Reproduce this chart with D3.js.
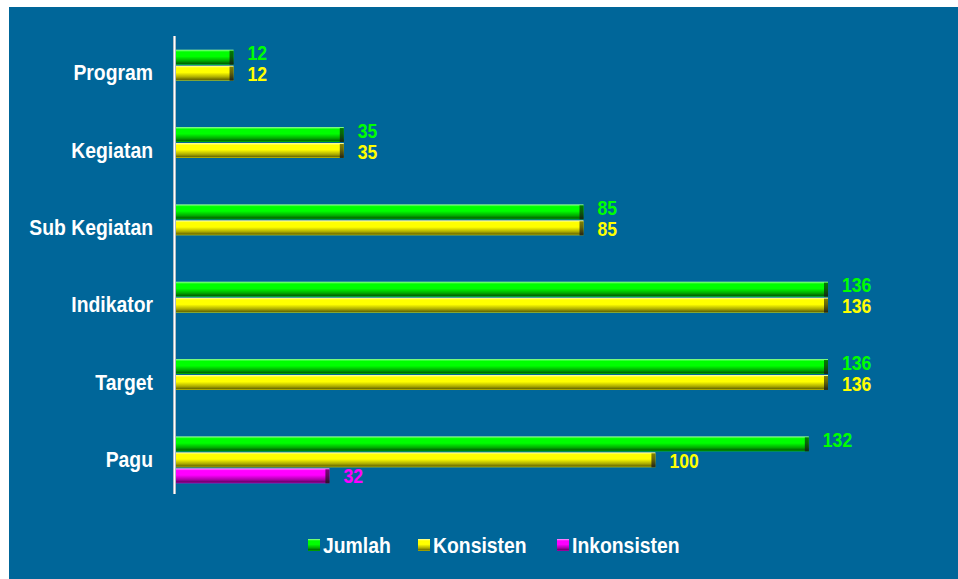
<!DOCTYPE html>
<html>
  <head>
    <meta charset="UTF-8" />
    <script src="https://d3js.org/d3.v7.min.js"></script>
    <style>
      body { margin: 0; background: #fff; }
      text { font-family: "Liberation Sans", Arial, sans-serif; font-weight: bold; }
    </style>
  </head>
  <body>
    <div id="my_dataviz"></div>

    <script>
      var width = 958, height = 579;

      const categories = ["Program", "Kegiatan", "Sub Kegiatan", "Indikator", "Target", "Pagu"];
      const seriesNames = ["Jumlah", "Konsisten", "Inkonsisten"];
      const jumlah = [12, 35, 85, 136, 136, 132];
      const konsisten = [12, 35, 85, 136, 136, 100];
      const inkonsisten = [0, 0, 0, 0, 0, 32];
      const seriesValues = [jumlah, konsisten, inkonsisten];

      const colors = ["#00ff00", "#ffff00", "#ff00ff"];
      const darks = ["#006600", "#6b6b00", "#660066"];
      const lights = ["#9cff9c", "#ffffb0", "#ffa8ff"];
      // value labels sit a little off the bar centre, like the original
      const labelShift = [-4, 1, 0];

      // narrow look: the condensed font is not installed, so squeeze it
      const squeeze = 0.88;

      var svg = d3
        .select("#my_dataviz")
        .append("svg")
        .attr("width", width)
        .attr("height", height);

      // background panel
      svg.append("rect")
        .attr("x", 9).attr("y", 7)
        .attr("width", width - 9).attr("height", height - 7)
        .attr("fill", "#006699");

      var defs = svg.append("defs");
      seriesNames.forEach(function (s, i) {
        var g = defs.append("linearGradient")
          .attr("id", "grad" + i)
          .attr("x1", 0).attr("y1", 0).attr("x2", 0).attr("y2", 1);
        g.append("stop").attr("offset", "0%").attr("stop-color", lights[i]);
        g.append("stop").attr("offset", "15%").attr("stop-color", colors[i]);
        g.append("stop").attr("offset", "45%").attr("stop-color", colors[i]);
        g.append("stop").attr("offset", "75%").attr("stop-color", d3.interpolateRgb(colors[i], darks[i])(0.55));
        g.append("stop").attr("offset", "92%").attr("stop-color", darks[i]);
        g.append("stop").attr("offset", "100%").attr("stop-color", d3.interpolateRgb(colors[i], darks[i])(0.3));
        var e = defs.append("linearGradient")
          .attr("id", "end" + i)
          .attr("x1", 0).attr("y1", 0).attr("x2", 0).attr("y2", 1);
        e.append("stop").attr("offset", "0%").attr("stop-color", darks[i]);
        e.append("stop").attr("offset", "100%").attr("stop-color", "#1a1a1a");
      });

      var x = d3.scaleLinear().domain([0, 136]).range([176, 828]);

      var y0 = d3.scaleBand()
        .domain(categories)
        .range([35, 499])
        .paddingInner(0.38)
        .paddingOuter(0.19);

      var y1 = d3.scaleBand()
        .domain(seriesNames)
        .range([0, y0.bandwidth()]);

      function place(tx, ty) {
        return "translate(" + tx + "," + ty + ") scale(" + squeeze + ",1)";
      }

      // category labels
      svg.append("g")
        .selectAll("text")
        .data(categories)
        .join("text")
        .attr("transform", d => place(153, y0(d) + y0.bandwidth() / 2 - 1))
        .attr("dy", "0.35em")
        .attr("text-anchor", "end")
        .attr("fill", "#ffffff")
        .attr("font-size", 22)
        .text(d => d);

      var rows = [];
      categories.forEach(function (c, ci) {
        seriesNames.forEach(function (s, si) {
          rows.push({ cat: c, series: s, si: si, value: seriesValues[si][ci] });
        });
      });
      var bars = rows.filter(d => d.value > 0);

      var bh = y1.bandwidth() - 1;
      var gBars = svg.append("g");

      gBars.selectAll("rect.bar")
        .data(bars)
        .join("rect")
        .attr("class", "bar")
        .attr("x", x(0))
        .attr("y", d => y0(d.cat) + y1(d.series))
        .attr("width", d => x(d.value) - x(0))
        .attr("height", bh)
        .attr("fill", d => "url(#grad" + d.si + ")");

      // darker end cap
      gBars.selectAll("rect.cap")
        .data(bars)
        .join("rect")
        .attr("class", "cap")
        .attr("x", d => x(d.value) - 4)
        .attr("y", d => y0(d.cat) + y1(d.series) + 1)
        .attr("width", 4)
        .attr("height", bh - 1)
        .attr("fill", d => "url(#end" + d.si + ")")
        .attr("opacity", 0.85);

      // value labels
      svg.append("g")
        .selectAll("text")
        .data(bars)
        .join("text")
        .attr("transform", d => place(x(d.value) + 14, y0(d.cat) + y1(d.series) + bh / 2 + labelShift[d.si]))
        .attr("dy", "0.35em")
        .attr("fill", d => colors[d.si])
        .attr("font-size", 20)
        .text(d => d.value);

      // axis line
      var axisGrad = defs.append("linearGradient").attr("id", "axisGrad");
      axisGrad.append("stop").attr("offset", "0%").attr("stop-color", "#8a9aa8");
      axisGrad.append("stop").attr("offset", "50%").attr("stop-color", "#ffffff");
      axisGrad.append("stop").attr("offset", "100%").attr("stop-color", "#8a9aa8");
      svg.append("rect")
        .attr("x", 173).attr("y", 36)
        .attr("width", 3).attr("height", 458)
        .attr("fill", "url(#axisGrad)");

      // legend
      var legendX = [308, 418, 557];
      var legend = svg.append("g")
        .selectAll("g")
        .data(seriesNames)
        .join("g")
        .attr("transform", (d, i) => "translate(" + legendX[i] + ",545)");
      legend.append("rect")
        .attr("x", 0).attr("y", -6)
        .attr("width", 12).attr("height", 12)
        .attr("fill", (d, i) => "url(#grad" + i + ")");
      legend.append("text")
        .attr("transform", place(15, 0))
        .attr("dy", "0.35em")
        .attr("fill", "#ffffff")
        .attr("font-size", 22)
        .text(d => d);
    </script>
  </body>
</html>
